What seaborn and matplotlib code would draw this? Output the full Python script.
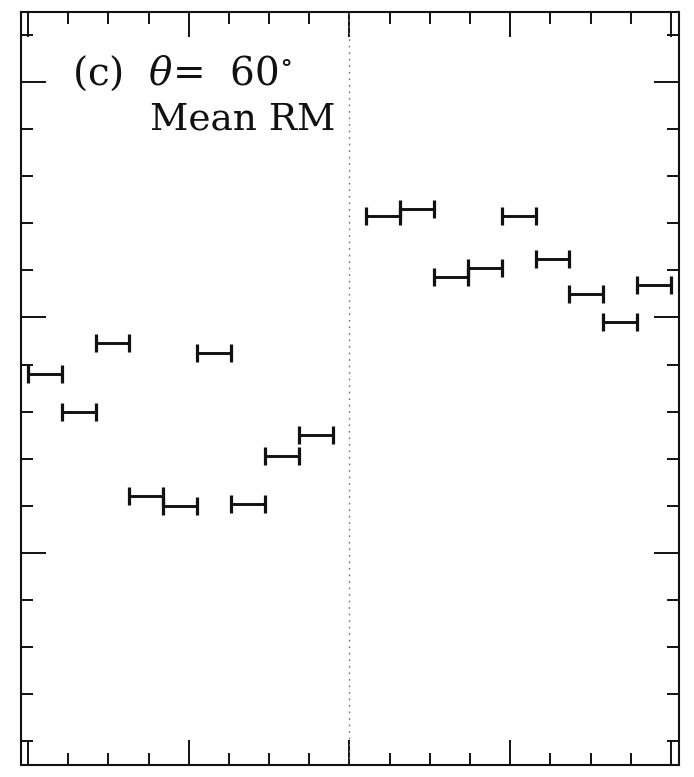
import numpy as np
import pandas as pd
import matplotlib
matplotlib.use("Agg")
import matplotlib.pyplot as plt
from matplotlib.ticker import MultipleLocator
import seaborn as sns

# Azimuthal bins (19 equal bins over 0-360 deg); the bin straddling 180 deg is empty
n_bins = 19
bin_index = [0, 1, 2, 3, 4, 5, 6, 7, 8, 10, 11, 12, 13, 14, 15, 16, 17, 18]
# Mean rotation measure per bin
mean_rm = [-24, -40, -11, -76, -80, -15, -79, -59, -50,
           43, 46, 17, 21, 43, 25, 10, -2, 14]

panel_label = r"(c)  $\theta$=  60$^{\circ}$"
quantity_label = "Mean RM"

bin_width = 360.0 / n_bins
lo = [i * bin_width for i in bin_index]
hi = [(i + 1) * bin_width for i in bin_index]

# long-format table: two end points per bin segment
seg = pd.DataFrame({
    "phi": lo + hi,
    "rm": mean_rm + mean_rm,
    "bin": bin_index + bin_index,
})

sns.set_style("ticks")
plt.rcParams["mathtext.fontset"] = "dejavuserif"

fig = plt.figure(figsize=(6.94, 7.77), dpi=100)
ax = fig.add_axes([21 / 694, 12 / 777, 658 / 694, 753 / 777])

ax.axvline(180, color="0.45", lw=1.0, ls=(0, (1.2, 3.5)), zorder=1)

sns.lineplot(data=seg, x="phi", y="rm", units="bin", estimator=None,
             color="#111111", lw=2.1, ax=ax, legend=False, zorder=3)
sns.scatterplot(data=seg, x="phi", y="rm", marker="|", s=150,
                color="#111111", linewidth=2.3, ax=ax, legend=False, zorder=3)

ax.set_xlim(-3.9, 364.5)
ax.set_ylim(-190, 129.7)

ax.xaxis.set_major_locator(MultipleLocator(90))
ax.xaxis.set_minor_locator(MultipleLocator(22.5))
ax.yaxis.set_major_locator(MultipleLocator(100))
ax.yaxis.set_minor_locator(MultipleLocator(20))
ax.tick_params(which="both", direction="in", top=True, right=True,
               bottom=True, left=True, labelbottom=False, labelleft=False,
               color="#111111", width=1.4)
ax.tick_params(which="major", length=18)
ax.tick_params(which="minor", length=8.6)
ax.set_xlabel("")
ax.set_ylabel("")
for sp in ax.spines.values():
    sp.set_linewidth(1.5)
    sp.set_color("#111111")
    sp.set_visible(True)

ax.text(0.0775, 0.919, panel_label, transform=ax.transAxes,
        fontsize=28, family="DejaVu Serif", va="center", ha="left", color="#111111")
ax.text(0.196, 0.857, quantity_label, transform=ax.transAxes,
        fontsize=27, family="DejaVu Serif", va="center", ha="left", color="#111111")

fig.savefig("out.png", dpi=100)
